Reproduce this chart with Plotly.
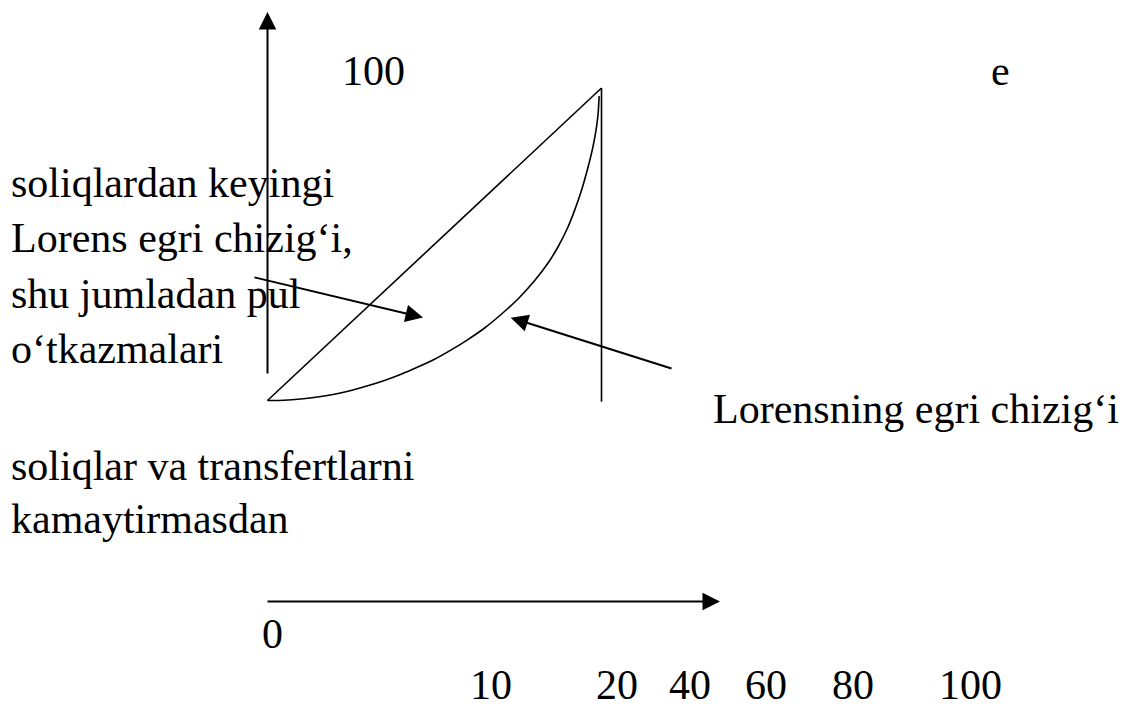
import plotly.graph_objects as go

# ---- data ----
# Lorenz curve: cumulative % of population vs cumulative % of income
population_pct = [0, 5, 10, 15, 20, 25, 30, 35, 40, 45, 50, 55, 60, 65, 70, 75, 80,
                  84, 87, 90, 92, 94, 96, 97.5, 98.5, 99.0, 99.3]
income_pct = [0, 0.1, 0.5, 1.1, 2.0, 3.2, 4.7, 6.4, 8.4, 10.7, 13.2, 16.2, 19.5, 23.2,
              27.6, 32.5, 38.4, 44.0, 49.2, 55.6, 61.0, 67.2, 74.8, 81.5, 87.5, 92.0, 97.4]
# line of absolute equality
equality_x = [0, 100]
equality_y = [0, 100]
# right edge of the box
edge_x = [100, 100]
edge_y = [-0.4, 100]

bottom_labels = ["10", "20", "40", "60", "80", "100"]
left_lines = ["soliqlardan keyingi", "Lorens egri chizig‘i,", "shu jumladan pul", "o‘tkazmalari"]
lower_lines = ["soliqlar va transfertlarni", "kamaytirmasdan"]
curve_label = "Lorensning egri chizig‘i"
top_label = "100"
corner_label = "e"
origin_label = "0"

# ---- layout helpers (pixel -> data coordinates) ----
W, H = 1127, 708
X0_PX, X100_PX = 267.5, 601.5
Y0_PX, Y100_PX = 400.5, 88.0
SX = (X100_PX - X0_PX) / 100.0
SY = (Y0_PX - Y100_PX) / 100.0


def dx(px):
    return (px - X0_PX) / SX


def dy(py):
    return (Y0_PX - py) / SY


FONT = dict(family="Liberation Serif, Times New Roman, serif", size=42, color="black")
ASC_OFF = 14.2  # baseline -> middle of the text box


def text_ann(text, px, baseline, anchor="left"):
    return dict(x=dx(px), y=dy(baseline - ASC_OFF), xref="x", yref="y", text=text,
                showarrow=False, xanchor=anchor, yanchor="middle", font=FONT,
                borderpad=0)


def arrow_ann(tail, tip, width=2, size=1.75):
    return dict(x=dx(tip[0]), y=dy(tip[1]), ax=dx(tail[0]), ay=dy(tail[1]),
                xref="x", yref="y", axref="x", ayref="y", text="",
                showarrow=True, arrowhead=2, arrowsize=size, arrowwidth=width,
                arrowcolor="black", standoff=0, startstandoff=0)


fig = go.Figure()
fig.add_trace(go.Scatter(x=equality_x, y=equality_y, mode="lines",
                         line=dict(color="black", width=1.6), hoverinfo="skip"))
fig.add_trace(go.Scatter(x=edge_x, y=edge_y, mode="lines",
                         line=dict(color="black", width=1.6), hoverinfo="skip"))
fig.add_trace(go.Scatter(x=population_pct, y=income_pct, mode="lines",
                         line=dict(color="black", width=1.6, shape="spline", smoothing=0.6),
                         hoverinfo="skip"))

anns = []
# axes arrows
anns.append(arrow_ann((267.5, 375), (267.5, 12)))
anns.append(arrow_ann((266, 601.5), (720, 601.5)))
# pointer arrows
anns.append(arrow_ann((253, 277), (423, 317.5)))
anns.append(arrow_ann((673, 369), (510.7, 317.7)))

# texts
for i, t in enumerate(left_lines):
    anns.append(text_ann(t, 10, 197 + 55.5 * i))
for i, t in enumerate(lower_lines):
    anns.append(text_ann(t, 10, 480 + 53 * i))
anns.append(text_ann(curve_label, 712, 423))
anns.append(text_ann(top_label, 373, 85, "center"))
anns.append(text_ann(corner_label, 1000, 85, "center"))
anns.append(text_ann(origin_label, 272.5, 648, "center"))
label_centers = [491, 617, 690, 766, 853, 970]
for t, cx in zip(bottom_labels, label_centers):
    anns.append(text_ann(t, cx, 699, "center"))

fig.update_layout(
    width=W, height=H,
    margin=dict(l=0, r=0, t=0, b=0),
    paper_bgcolor="white", plot_bgcolor="white",
    showlegend=False,
    xaxis=dict(range=[dx(0), dx(W)], visible=False, fixedrange=True),
    yaxis=dict(range=[dy(H), dy(0)], visible=False, fixedrange=True),
    annotations=anns,
)

fig.write_html("out.html", config={"displayModeBar": False},
               post_script="document.body.style.margin='0';document.body.style.overflow='hidden';")
